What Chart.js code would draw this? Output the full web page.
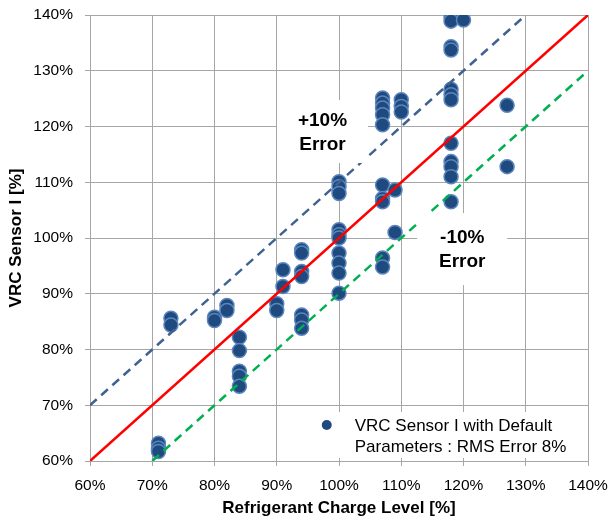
<!DOCTYPE html>
<html>
<head>
<meta charset="utf-8">
<script src="https://cdn.jsdelivr.net/npm/chart.js@4"></script>
<style>
  html, body { margin: 0; padding: 0; background: #fff; }
  #wrap { width: 613px; height: 521px; }
</style>
</head>
<body>
<div id="wrap"><canvas id="c" width="613" height="521"></canvas></div>
<script>
// Measured charge level (x) and sensor estimate (y), both in percent
const chargeLevel = [
  118, 118, 120, 118, 118, 118, 118, 118, 118, 118, 118, 118, 118,
  127, 127,
  107, 107, 107, 107, 107, 107, 107, 107, 107, 107,
  110, 110, 110,
  109, 109,
  100, 100, 100, 100, 100, 100, 100, 100, 100, 100,
  94, 94, 94, 94, 94, 94, 94,
  91, 91,
  90, 90,
  82, 82,
  80, 80,
  73, 73,
  84, 84, 84, 84, 84,
  71, 71, 71
];
const sensorReading = [
  139.5, 138.9, 139.1, 134.3, 133.7, 126.7, 125.7, 124.8, 117.0, 113.7, 112.8, 111.0, 106.5,
  123.8, 112.8,
  125.1, 124.2, 123.3, 122.1, 120.3, 109.5, 107.1, 106.5, 96.4, 94.8,
  124.8, 123.6, 122.6,
  108.6, 101.0,
  110.1, 109.2, 108.0, 101.5, 100.6, 100.0, 97.3, 95.5, 93.7, 90.1,
  97.9, 97.3, 94.0, 93.1, 86.2, 85.3, 83.8,
  94.3, 91.3,
  88.2, 87.0,
  87.9, 87.0,
  85.8, 85.2,
  85.6, 84.4,
  82.2, 79.8, 76.1, 75.2, 73.4,
  63.2, 62.3, 61.7
];

// Reference lines: perfect agreement and the ±10% error bands
const idealX = [60, 140],  idealY = [60, 140];
const plusX  = [60, 130],  plusY  = [70, 140];
const minusX = [70, 140],  minusY = [60, 130];

// Axis ticks
const tickValues = [60, 70, 80, 90, 100, 110, 120, 130, 140];

const seriesLabel = ['VRC Sensor I with Default', 'Parameters : RMS Error 8%'];
const plusLabel = ['+10%', 'Error'];
const minusLabel = ['-10%', 'Error'];

const pts = (xs, ys) => xs.map((x, i) => ({ x, y: ys[i] }));

const FONT = '"Liberation Sans", Arial, sans-serif';

// Draws the white-backed annotation boxes and the legend inside the plot
const overlayPlugin = {
  id: 'overlay',
  afterDatasetsDraw(chart) {
    const ctx = chart.ctx;
    const xs = chart.scales.x, ys = chart.scales.y;
    ctx.save();

    const textBox = (lines, cx, cy, w, h, dy) => {
      const px = xs.getPixelForValue(cx), py = ys.getPixelForValue(cy);
      ctx.fillStyle = '#fff';
      ctx.fillRect(px - w / 2, py - h / 2, w, h);
      ctx.fillStyle = '#000';
      ctx.font = 'bold 19px ' + FONT;
      ctx.textAlign = 'center';
      ctx.textBaseline = 'middle';
      ctx.fillText(lines[0], px, py + dy - 12);
      ctx.fillText(lines[1], px, py + dy + 12);
    };
    textBox(plusLabel, 97.35, 119.1, 91, 63, 1.5);
    textBox(minusLabel, 119.8, 98.0, 90, 72, 1);

    // legend
    const lx = xs.getPixelForValue(95.3), ly = ys.getPixelForValue(68.8);
    const lw = xs.right - lx, lh = 46;
    ctx.fillStyle = '#fff';
    ctx.fillRect(lx, ly, lw, lh);
    ctx.beginPath();
    ctx.arc(lx + 17, ly + 13, 5, 0, Math.PI * 2);
    ctx.fillStyle = '#1F4A7F';
    ctx.fill();
    ctx.fillStyle = '#000';
    ctx.font = '17px ' + FONT;
    ctx.textAlign = 'left';
    ctx.textBaseline = 'middle';
    ctx.fillText(seriesLabel[0], lx + 45, ly + 14);
    ctx.fillText(seriesLabel[1], lx + 45, ly + 35);
    ctx.restore();
  }
};

const lineStyle = (color, dash) => ({
  type: 'line',
  borderColor: color,
  borderWidth: 2.5,
  borderDash: dash,
  pointRadius: 0,
  fill: false,
  tension: 0,
  order: 0
});

new Chart(document.getElementById('c'), {
  type: 'scatter',
  data: {
    datasets: [
      Object.assign(lineStyle('#FF0000', []), { data: pts(idealX, idealY) }),
      Object.assign(lineStyle('#3F6290', [9, 6]), { data: pts(plusX, plusY) }),
      Object.assign(lineStyle('#00B050', [9, 6]), { data: pts(minusX, minusY) }),
      {
        label: seriesLabel.join(' '),
        data: pts(chargeLevel, sensorReading),
        pointRadius: 7,
        pointBackgroundColor: '#1F4A7F',
        pointBorderColor: '#5B86BD',
        pointBorderWidth: 1.5,
        order: 1
      }
    ]
  },
  options: {
    responsive: false,
    animation: false,
    layout: { padding: { top: 15, right: 25, left: 0, bottom: 0 } },
    plugins: {
      legend: { display: false },
      tooltip: { enabled: false }
    },
    scales: {
      x: {
        type: 'linear',
        min: 60, max: 140,
        afterBuildTicks: s => { s.ticks = tickValues.map(v => ({ value: v })); },
        afterFit: s => { s.height = 60; s.paddingLeft = 0; s.paddingRight = 0; },
        ticks: {
          color: '#000',
          font: { family: FONT, size: 15.5 },
          padding: 10,
          callback: v => v + '%'
        },
        grid: { color: '#A6A6A6', lineWidth: 1, tickLength: 5 },
        border: { color: '#A6A6A6' },
        title: {
          display: true,
          text: 'Refrigerant Charge Level [%]',
          color: '#000',
          font: { family: FONT, size: 17, weight: 'bold' },
          padding: { top: 4, bottom: 2 }
        }
      },
      y: {
        type: 'linear',
        min: 60, max: 140,
        afterBuildTicks: s => { s.ticks = tickValues.map(v => ({ value: v })); },
        afterFit: s => { s.width = 90; s.paddingTop = 0; s.paddingBottom = 0; },
        ticks: {
          color: '#000',
          font: { family: FONT, size: 15.5 },
          padding: 12,
          callback: v => v + '%'
        },
        grid: { color: '#A6A6A6', lineWidth: 1, tickLength: 5 },
        border: { color: '#A6A6A6' },
        title: {
          display: true,
          text: 'VRC Sensor I [%]',
          color: '#000',
          font: { family: FONT, size: 17, weight: 'bold' },
          padding: { top: 6, bottom: 2 }
        }
      }
    }
  },
  plugins: [overlayPlugin]
});
</script>
</body>
</html>
